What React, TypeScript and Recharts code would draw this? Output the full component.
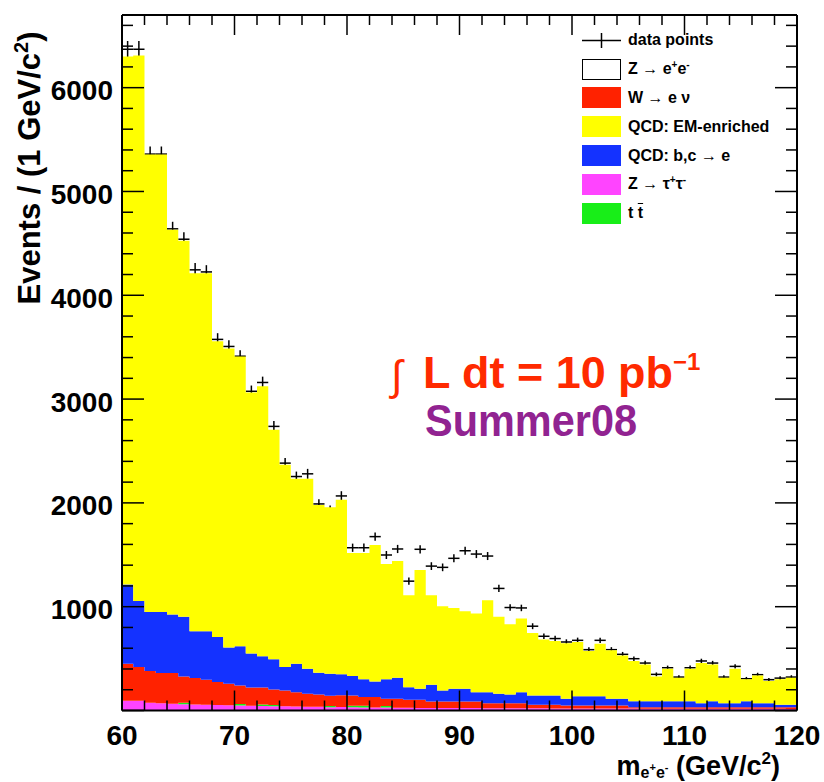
import React from 'react';
import {
  ComposedChart,
  Area,
  Scatter,
  ErrorBar,
  XAxis,
  YAxis,
  ReferenceLine,
  Legend,
} from 'recharts';

// lower edge of each 1 GeV/c2 bin
const MASS_LOW = [
  60, 61, 62, 63, 64, 65, 66, 67, 68, 69,
  70, 71, 72, 73, 74, 75, 76, 77, 78, 79,
  80, 81, 82, 83, 84, 85, 86, 87, 88, 89,
  90, 91, 92, 93, 94, 95, 96, 97, 98, 99,
  100, 101, 102, 103, 104, 105, 106, 107, 108, 109,
  110, 111, 112, 113, 114, 115, 116, 117, 118, 119,
];

const DATA_POINTS = [
  6370, 6370, 5360, 5360, 4640, 4540, 4245, 4225, 3575, 3507,
  3413, 3075, 3160, 2737, 2383, 2254, 2280, 1990, 1932, 2067,
  1568, 1568, 1675, 1498, 1556, 1246, 1553, 1391, 1379, 1466,
  1539, 1507, 1488, 1176, 992, 988, 812, 715, 693, 660,
  676, 586, 676, 586, 541, 499, 457, 348, 412, 322,
  412, 477, 457, 322, 425, 306, 345, 297, 312, 322,
];

const QCD_EM = [
  5086, 5254, 4405, 4405, 3707, 3623, 3450, 3450, 2849, 2882,
  2792, 2515, 2602, 2212, 1948, 1781, 1829, 1616, 1605, 1681,
  1185, 1217, 1314, 1111, 1125, 886, 1144, 863, 812, 779,
  748, 757, 886, 741, 676, 709, 602, 538, 525, 534,
  522, 435, 506, 467, 418, 387, 354, 238, 313, 225,
  313, 386, 354, 244, 332, 210, 267, 212, 245, 260,
];

const QCD_BC = [
  763, 637, 570, 589, 563, 574, 451, 466, 435, 348,
  376, 326, 300, 290, 226, 274, 242, 209, 210, 203,
  187, 171, 151, 187, 202, 122, 106, 161, 106, 122,
  122, 90, 106, 90, 84, 106, 90, 90, 90, 65,
  90, 90, 90, 65, 65, 58, 58, 58, 58, 58,
  58, 39, 58, 39, 39, 58, 39, 39, 23, 23,
];

const W_ENU = [
  356, 324, 305, 291, 295, 253, 254, 241, 221, 208,
  179, 176, 163, 151, 153, 139, 124, 119, 99, 113,
  99, 84, 100, 70, 86, 77, 78, 62, 63, 63,
  64, 64, 49, 49, 49, 50, 34, 34, 35, 28,
  28, 28, 29, 29, 29, 13, 14, 14, 14, 14,
  14, 15, 15, 15, 15, 16, 16, 16, 16, 17,
];

const TTBAR = [
  0, 0, 0, 0, 0, 15, 0, 0, 0, 0,
  15, 0, 15, 10, 0, 0, 0, 0, 12, 0,
  15, 15, 0, 15, 0, 0, 0, 0, 0, 0,
  0, 0, 0, 0, 0, 0, 0, 0, 0, 0,
  0, 0, 0, 0, 0, 0, 0, 0, 0, 0,
  0, 0, 0, 0, 0, 0, 0, 0, 0, 0,
];

const Z_TAUTAU = [
  90, 90, 70, 65, 61, 55, 53, 51, 48, 45,
  43, 41, 39, 37, 35, 33, 32, 31, 32, 28,
  31, 30, 29, 28, 27, 26, 25, 25, 24, 24,
  23, 23, 22, 22, 22, 21, 21, 21, 20, 20,
  20, 20, 19, 19, 19, 19, 18, 18, 18, 18,
  18, 17, 17, 17, 17, 16, 16, 16, 16, 15,
];

const Z_EE = [
  5, 5, 5, 5, 5, 5, 5, 5, 5, 5,
  5, 5, 5, 5, 5, 5, 5, 5, 0, 5,
  0, 0, 0, 0, 0, 0, 0, 0, 0, 0,
  0, 0, 0, 0, 0, 0, 0, 0, 0, 0,
  0, 0, 0, 0, 0, 0, 0, 0, 0, 0,
  0, 0, 0, 0, 0, 0, 0, 0, 0, 0,
];

const X_TICKS = [
  60, 62, 64, 66, 68, 70, 72, 74, 76, 78, 80, 82, 84, 86, 88, 90,
  92, 94, 96, 98, 100, 102, 104, 106, 108, 110, 112, 114, 116, 118, 120,
];
const Y_TICKS = [
  0, 200, 400, 600, 800, 1000, 1200, 1400, 1600, 1800, 2000, 2200, 2400,
  2600, 2800, 3000, 3200, 3400, 3600, 3800, 4000, 4200, 4400, 4600, 4800,
  5000, 5200, 5400, 5600, 5800, 6000, 6200, 6400, 6600,
];
const Y_LABELS = [1000, 2000, 3000, 4000, 5000, 6000];

const X_MIN = 60;
const X_MAX = 120;
const Y_MAX = 6700;

const COLORS = {
  em:  '#ffff00',
  bc:  '#1432ff',
  w:   '#ff2200',
  tt:  '#18ee18',
  ztt: '#ff44ff',
  zee: '#ffffff',
};

const FONT = '"Liberation Sans", Arial, Helvetica, sans-serif';
const PLOT_W = 675;
const PLOT_H = 695.5;

const histRows = MASS_LOW.map((x, i) => ({
  x,
  zee: Z_EE[i],
  ztt: Z_TAUTAU[i],
  tt:  TTBAR[i],
  w:   W_ENU[i],
  bc:  QCD_BC[i],
  em:  QCD_EM[i],
}));
// close the last bin at 120
histRows.push({ ...histRows[histRows.length - 1], x: X_MAX });

const pointRows = MASS_LOW.map((x, i) => ({
  x: x + 0.5,
  y: DATA_POINTS[i],
  err: Math.sqrt(DATA_POINTS[i]),
  xerr: 0.5,
}));

function XTick({ x, y, payload }: { x: number; y: number; payload: { value: number } }) {
  const v = payload.value;
  const major = v % 10 === 0;
  const len = major ? 20 : 10;
  return (
    <g>
      <line x1={x} y1={y} x2={x} y2={y - len} stroke="#000" strokeWidth={1.5} />
      <line x1={x} y1={y - PLOT_H} x2={x} y2={y - PLOT_H + len} stroke="#000" strokeWidth={1.5} />
      {major && (
        <text
          x={x}
          y={y + 34}
          textAnchor="middle"
          fontFamily={FONT}
          fontWeight="bold"
          fontSize={28}
          fill="#000"
        >
          {v}
        </text>
      )}
    </g>
  );
}

function YTick({ x, y, payload }: { x: number; y: number; payload: { value: number } }) {
  const v = payload.value;
  const major = v % 1000 === 0;
  const len = major ? 22 : 11;
  return (
    <g>
      <line x1={x} y1={y} x2={x + len} y2={y} stroke="#000" strokeWidth={1.5} />
      <line x1={x + PLOT_W} y1={y} x2={x + PLOT_W - len} y2={y} stroke="#000" strokeWidth={1.5} />
      {Y_LABELS.includes(v) && (
        <text
          x={x - 9}
          y={y + 3}
          textAnchor="end"
          dominantBaseline="central"
          fontFamily={FONT}
          fontWeight="bold"
          fontSize={28}
          fill="#000"
        >
          {v}
        </text>
      )}
    </g>
  );
}

const sup = { fontSize: 10, verticalAlign: 'super' as const, lineHeight: 0 };

const LEGEND_ITEMS = [
  { key: 'data', label: <>data points</> },
  { key: 'zee', label: <>Z → e<span style={sup}>+</span>e<span style={sup}>-</span></> },
  { key: 'w', label: <>W → e ν</> },
  { key: 'em', label: <>QCD: EM-enriched</> },
  { key: 'bc', label: <>QCD: b,c → e</> },
  { key: 'ztt', label: <>Z → τ<span style={sup}>+</span>τ<span style={sup}>-</span></> },
  { key: 'tt', label: <>t <span style={{ textDecoration: 'overline' }}>t</span></> },
];

function LegendBox() {
  return (
    <div style={{ fontFamily: FONT, fontWeight: 'bold', fontSize: 16, color: '#000' }}>
      {LEGEND_ITEMS.map((it) => (
        <div key={it.key} style={{ display: 'flex', alignItems: 'center', height: 28.8 }}>
          {it.key === 'data' ? (
            <svg width={39} height={21} style={{ flex: 'none' }}>
              <line x1={0} y1={10.5} x2={39} y2={10.5} stroke="#000" strokeWidth={1.5} />
              <line x1={19.5} y1={3} x2={19.5} y2={18} stroke="#000" strokeWidth={1.5} />
            </svg>
          ) : (
            <div
              style={{
                flex: 'none',
                width: 39,
                height: 21,
                boxSizing: 'border-box',
                background: COLORS[it.key as keyof typeof COLORS],
                border: it.key === 'zee' ? '1.5px solid #000' : 'none',
              }}
            />
          )}
          <span style={{ marginLeft: 7, whiteSpace: 'nowrap' }}>{it.label}</span>
        </div>
      ))}
    </div>
  );
}

export default function App() {
  return (
    <div style={{ position: 'absolute', left: 0, top: 0, width: 824, height: 782, background: '#fff' }}>
      <ComposedChart
        width={824}
        height={782}
        data={histRows}
        margin={{ top: 15, right: 27, left: 62, bottom: 21.5 }}
      >
        <XAxis
          dataKey="x"
          type="number"
          domain={[X_MIN, X_MAX]}
          ticks={X_TICKS}
          interval={0}
          tickSize={0}
          tickMargin={0}
          tickLine={false}
          tick={XTick}
          height={50}
          axisLine={{ stroke: '#000', strokeWidth: 2 }}
        />
        <YAxis
          type="number"
          domain={[0, Y_MAX]}
          ticks={Y_TICKS}
          interval={0}
          tickSize={0}
          tickMargin={0}
          tickLine={false}
          tick={YTick}
          width={60}
          allowDataOverflow
          axisLine={{ stroke: '#000', strokeWidth: 2 }}
        />
        <Legend
          layout="vertical"
          align="center"
          verticalAlign="middle"
          content={<LegendBox />}
          wrapperStyle={{ left: 582, top: 26, width: 230 }}
        />

        {/* data drawn first, the stack covers the lower half like the original */}
        <Scatter data={pointRows} dataKey="y" shape={() => <g />} isAnimationActive={false} zIndex={50}>
          <ErrorBar dataKey="err" direction="y" width={0} stroke="#000" strokeWidth={1.5} zIndex={50} />
          <ErrorBar dataKey="xerr" direction="x" width={0} stroke="#000" strokeWidth={1.5} zIndex={50} />
        </Scatter>

        <Area type="stepAfter" dataKey="zee" stackId="mc" fill={COLORS.zee} fillOpacity={1} stroke="#000" strokeWidth={1.5} dot={false} activeDot={false} isAnimationActive={false} />
        <Area type="stepAfter" dataKey="ztt" stackId="mc" fill={COLORS.ztt} fillOpacity={1} stroke="none" dot={false} activeDot={false} isAnimationActive={false} />
        <Area type="stepAfter" dataKey="tt" stackId="mc" fill={COLORS.tt} fillOpacity={1} stroke="none" dot={false} activeDot={false} isAnimationActive={false} />
        <Area type="stepAfter" dataKey="w" stackId="mc" fill={COLORS.w} fillOpacity={1} stroke="none" dot={false} activeDot={false} isAnimationActive={false} />
        <Area type="stepAfter" dataKey="bc" stackId="mc" fill={COLORS.bc} fillOpacity={1} stroke="none" dot={false} activeDot={false} isAnimationActive={false} />
        <Area type="stepAfter" dataKey="em" stackId="mc" fill={COLORS.em} fillOpacity={1} stroke="none" dot={false} activeDot={false} isAnimationActive={false} />

        <ReferenceLine y={Y_MAX} stroke="#000" strokeWidth={2} />
        <ReferenceLine x={X_MAX} stroke="#000" strokeWidth={2} />
      </ComposedChart>

      {/* titles and annotations */}
      <svg
        width={824}
        height={782}
        style={{ position: 'absolute', left: 0, top: 0, pointerEvents: 'none' }}
        fontFamily={FONT}
        fontWeight="bold"
      >
        <text transform="translate(40,168) rotate(-90)" textAnchor="middle" fontSize={31} fill="#000">
          Events / (1 GeV/c<tspan fontSize={20} dy={-12}>2</tspan>
          <tspan dy={12}>)</tspan>
        </text>
        <text x={780} y={775} textAnchor="end" fontSize={27} fill="#000">
          m<tspan fontSize={16} dy={3}>e</tspan>
          <tspan fontSize={11} dy={-7}>+</tspan>
          <tspan fontSize={16} dy={7}>e</tspan>
          <tspan fontSize={11} dy={-7}>-</tspan>
          <tspan fontSize={27} dy={4}> (GeV/c</tspan>
          <tspan fontSize={17} dy={-11}>2</tspan>
          <tspan fontSize={27} dy={11}>)</tspan>
        </text>
        <text x={391} y={390} fontSize={42} fontWeight="normal" fill="#ff2a00">∫</text>
        <text x={423} y={388} fontSize={44} fill="#ff2a00" textLength={250} lengthAdjust="spacingAndGlyphs">
          L dt = 10 pb
        </text>
        <text x={673} y={370} fontSize={24} fill="#ff2a00">−1</text>
        <text x={425} y={436} fontSize={44} fill="#912391" textLength={212} lengthAdjust="spacingAndGlyphs">
          Summer08
        </text>
      </svg>
    </div>
  );
}
